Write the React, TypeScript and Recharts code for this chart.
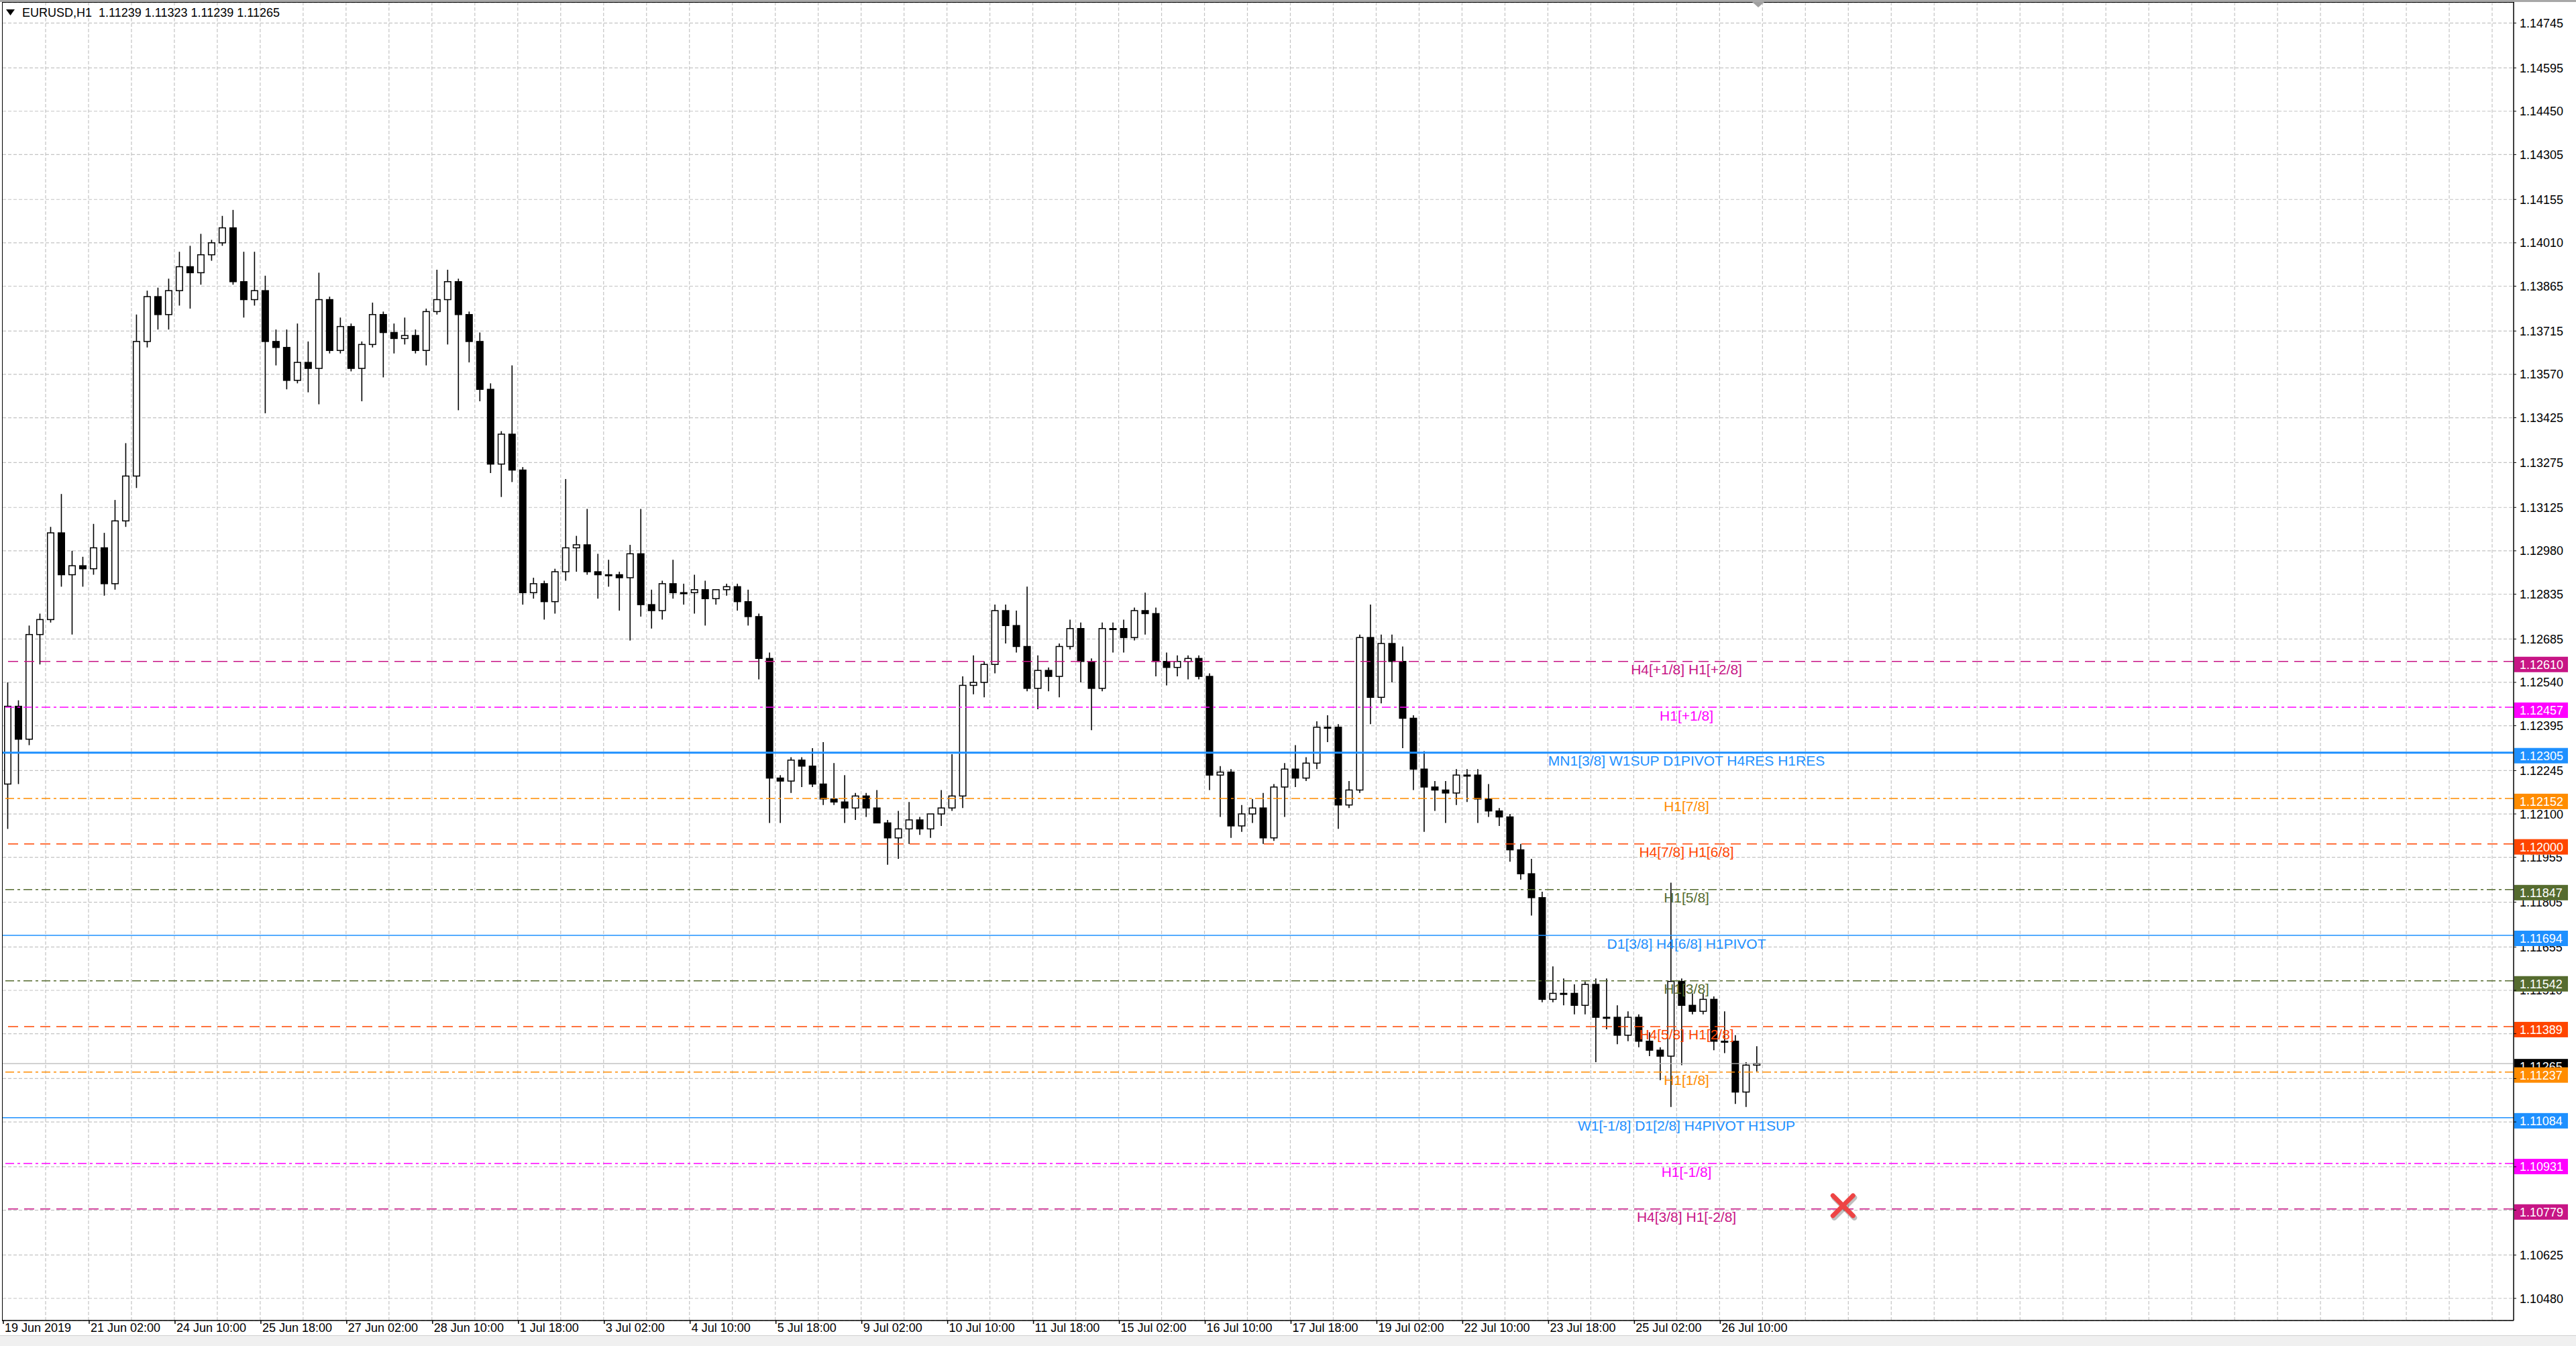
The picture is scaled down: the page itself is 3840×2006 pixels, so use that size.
import React from "react";
import {
  ComposedChart,
  Bar,
  XAxis,
  YAxis,
  CartesianGrid,
  ReferenceLine,
  ReferenceDot,
} from "recharts";

// EURUSD H1 chart, resampled to 4-hour candles (19 Jun 18:00 -> 26 Jul 10:00).
// Each candle opens at the previous close.
const firstOpen = 1.122;

const highs = [
  1.1254, 1.1248, 1.1273, 1.1277, 1.1306, 1.1317, 1.1298, 1.1296, 1.1307, 1.1304,
  1.1315, 1.1334, 1.1377, 1.1385, 1.1386, 1.1389, 1.1398, 1.14, 1.1404, 1.1402,
  1.141, 1.1412, 1.1398, 1.1398, 1.139, 1.1372, 1.1372, 1.1374, 1.1368, 1.1391,
  1.1383, 1.1376, 1.1374, 1.1368, 1.1381, 1.1378, 1.1374, 1.1376, 1.1372, 1.1379,
  1.1392, 1.1392, 1.1389, 1.1378, 1.1371, 1.1354, 1.1338, 1.136, 1.1326, 1.1289,
  1.1288, 1.1292, 1.1322, 1.1303, 1.1312, 1.1297, 1.1295, 1.1291, 1.13, 1.1312,
  1.1285, 1.1288, 1.1295, 1.1287, 1.129, 1.1288, 1.1285, 1.1287, 1.1287, 1.1285,
  1.1277, 1.1264, 1.1223, 1.1229, 1.1229, 1.1232, 1.1234, 1.1227, 1.1223, 1.1217,
  1.1217, 1.1218, 1.1208, 1.1211, 1.1214, 1.1209, 1.121, 1.1218, 1.123, 1.1256,
  1.1263, 1.1261, 1.128, 1.128, 1.1278, 1.1286, 1.1263, 1.1259, 1.1267, 1.1275,
  1.1274, 1.1262, 1.1274, 1.1274, 1.1275, 1.1279, 1.1284, 1.1279, 1.1264, 1.1263,
  1.1263, 1.1263, 1.1257, 1.1226, 1.1225, 1.1213, 1.1215, 1.1217, 1.122, 1.1227,
  1.1233, 1.1229, 1.1241, 1.1243, 1.124, 1.1221, 1.127, 1.128, 1.127, 1.127,
  1.1266, 1.1243, 1.1231, 1.1221, 1.1221, 1.1225, 1.1225, 1.1225, 1.122, 1.1212,
  1.121, 1.12, 1.1195, 1.1184, 1.1159, 1.1155, 1.1153, 1.1154, 1.1155, 1.1155,
  1.1146, 1.1144, 1.1143, 1.1137, 1.1132, 1.1187, 1.1155, 1.115, 1.115, 1.1149,
  1.1144, 1.1136, 1.1127, 1.11323,
];

const lows = [
  1.1205, 1.122, 1.1233, 1.126, 1.1274, 1.1286, 1.127, 1.1286, 1.129, 1.1283,
  1.1285, 1.1306, 1.1319, 1.1366, 1.1372, 1.1372, 1.138, 1.1379, 1.1387, 1.1395,
  1.14, 1.1387, 1.1376, 1.138, 1.1344, 1.136, 1.1352, 1.1354, 1.1351, 1.1347,
  1.1364, 1.1364, 1.1358, 1.1348, 1.1366, 1.1356, 1.1364, 1.1367, 1.1364, 1.136,
  1.1377, 1.1367, 1.1345, 1.1361, 1.1348, 1.1324, 1.1316, 1.1321, 1.128, 1.1282,
  1.1275, 1.1277, 1.1288, 1.1291, 1.129, 1.1282, 1.1286, 1.1278, 1.1268, 1.1276,
  1.1272, 1.1275, 1.1282, 1.128, 1.1277, 1.1273, 1.128, 1.1283, 1.1278, 1.1273,
  1.1255, 1.1207, 1.1207, 1.1217, 1.1219, 1.1219, 1.1213, 1.1213, 1.1207, 1.1208,
  1.1209, 1.1207, 1.1193, 1.1195, 1.12, 1.1203, 1.1202, 1.1206, 1.1211, 1.1212,
  1.125, 1.1249, 1.1257, 1.1267, 1.1264, 1.1251, 1.1245, 1.1251, 1.1249, 1.1265,
  1.1254, 1.1238, 1.1251, 1.1264, 1.1264, 1.1268, 1.127, 1.1256, 1.1253, 1.1256,
  1.1255, 1.1255, 1.1218, 1.1209, 1.1202, 1.1204, 1.1207, 1.12, 1.1201, 1.1209,
  1.1219, 1.1221, 1.1225, 1.1234, 1.1205, 1.1212, 1.1217, 1.124, 1.1247, 1.1254,
  1.1232, 1.1218, 1.1204, 1.1211, 1.1207, 1.1213, 1.1214, 1.1207, 1.1209, 1.1206,
  1.1194, 1.1188, 1.1176, 1.1147, 1.1147, 1.1146, 1.1143, 1.1143, 1.1127, 1.1138,
  1.1133, 1.1134, 1.1132, 1.1129, 1.1121, 1.1112, 1.1126, 1.1143, 1.1143, 1.1131,
  1.113, 1.1113, 1.1112, 1.11239,
];

const closes = [
  1.1246, 1.1235, 1.127, 1.1275, 1.1304, 1.129, 1.1293, 1.1292, 1.1299, 1.1287,
  1.1308, 1.1323, 1.1368, 1.1383, 1.1377, 1.1385, 1.1393, 1.1391, 1.1397, 1.1401,
  1.1406, 1.1388, 1.1382, 1.1385, 1.1368, 1.1366, 1.1355, 1.1361, 1.1359, 1.1382,
  1.1365, 1.1373, 1.1359, 1.1367, 1.1377, 1.1371, 1.1369, 1.137, 1.1365, 1.1378,
  1.1382, 1.1388, 1.1377, 1.1368, 1.1352, 1.1327, 1.1337, 1.1325, 1.1284, 1.1287,
  1.1281, 1.1291, 1.1299, 1.13, 1.1291, 1.129, 1.129, 1.1289, 1.1297, 1.128,
  1.1278, 1.1287, 1.1284, 1.1284, 1.1285, 1.1282, 1.1285, 1.1286, 1.1281, 1.1276,
  1.1262, 1.1222, 1.1221, 1.1228, 1.1226, 1.122, 1.1215, 1.1214, 1.1212, 1.1216,
  1.1212, 1.1207, 1.1202, 1.1205, 1.1208, 1.1205, 1.121, 1.1212, 1.1216, 1.1253,
  1.1254, 1.126, 1.1278, 1.1273, 1.1266, 1.1252, 1.1258, 1.1256, 1.1266, 1.1272,
  1.1261, 1.1252, 1.1272, 1.1272, 1.1269, 1.1278, 1.1277, 1.1261, 1.1259, 1.1261,
  1.1262, 1.1256, 1.1223, 1.1224, 1.1206, 1.121, 1.1212, 1.1202, 1.1219, 1.1225,
  1.1222, 1.1227, 1.1239, 1.1239, 1.1213, 1.1218, 1.1269, 1.1249, 1.1267, 1.1261,
  1.1242, 1.1225, 1.1219, 1.1218, 1.1217, 1.1223, 1.1223, 1.1215, 1.1211, 1.1209,
  1.1198, 1.119, 1.1182, 1.1148, 1.115, 1.115, 1.1146, 1.1153, 1.1142, 1.1142,
  1.1136, 1.1142, 1.1134, 1.1131, 1.1129, 1.1154, 1.1146, 1.1144, 1.1148, 1.1134,
  1.1134, 1.1117, 1.1126, 1.11265,
];

// one date label every 8 candles (32 hours)
const dateLabels = [
  "19 Jun 2019", "21 Jun 02:00", "24 Jun 10:00", "25 Jun 18:00", "27 Jun 02:00",
  "28 Jun 10:00", "1 Jul 18:00", "3 Jul 02:00", "4 Jul 10:00", "5 Jul 18:00",
  "9 Jul 02:00", "10 Jul 10:00", "11 Jul 18:00", "15 Jul 02:00", "16 Jul 10:00",
  "17 Jul 18:00", "19 Jul 02:00", "22 Jul 10:00", "23 Jul 18:00", "25 Jul 02:00",
  "26 Jul 10:00",
];

const priceTicks = [
  1.1048, 1.10625, 1.10775, 1.1092, 1.1107, 1.11215, 1.11365, 1.1151, 1.11655,
  1.11805, 1.11955, 1.121, 1.12245, 1.12395, 1.1254, 1.12685, 1.12835, 1.1298,
  1.13125, 1.13275, 1.13425, 1.1357, 1.13715, 1.13865, 1.1401, 1.14155, 1.14305,
  1.1445, 1.14595, 1.14745,
];

// Murrey-math / pivot levels drawn on the chart
const levelPrices = [
  1.1261, 1.12457, 1.12305, 1.12152, 1.12, 1.11847, 1.11694, 1.11542, 1.11389,
  1.11237, 1.11084, 1.10931, 1.10779,
];
const levelNames = [
  "H4[+1/8] H1[+2/8]", "H1[+1/8]", "MN1[3/8] W1SUP D1PIVOT H4RES H1RES", "H1[7/8]",
  "H4[7/8] H1[6/8]", "H1[5/8]", "D1[3/8] H4[6/8] H1PIVOT", "H1[3/8]",
  "H4[5/8] H1[2/8]", "H1[1/8]", "W1[-1/8] D1[2/8] H4PIVOT H1SUP", "H1[-1/8]",
  "H4[3/8] H1[-2/8]",
];
const levelColors = [
  "#C71585", "#FF00FF", "#1E90FF", "#FF8C00", "#FF4500", "#556B2F", "#1E90FF",
  "#556B2F", "#FF4500", "#FF8C00", "#1E90FF", "#FF00FF", "#C71585",
];
const levelStyles = [
  "dash", "dashdot", "thick", "dashdot", "dash", "dashdot", "solid", "dashdot",
  "dash", "dashdot", "solid", "dashdot", "dash",
];

const lastPrice = 1.11265;

const SLOTS = 234; // visible candle slots incl. the empty right margin
const Y_DOMAIN = [1.10406, 1.14813];
const PLOT_H = 1964;
const PX_PER_PRICE = PLOT_H / (Y_DOMAIN[1] - Y_DOMAIN[0]);
const BOX_UP = 7; // price box reaches this far above its line
const BOX_DOWN = 16; // and this far below it
const FONT = "'Liberation Sans', Arial, sans-serif";

const rows = Array.from({ length: SLOTS }, (_, i) => {
  if (i >= closes.length) return { slot: i, range: null };
  const open = i === 0 ? firstOpen : closes[i - 1];
  return {
    slot: i,
    open,
    high: highs[i],
    low: lows[i],
    close: closes[i],
    range: [lows[i], highs[i]],
  };
});

const labelSlots = dateLabels.map((_, i) => i * 8);
const gridSlots = Array.from({ length: Math.floor((SLOTS - 1) / 4) }, (_, i) => (i + 1) * 4);
const boxPrices = [lastPrice, ...levelPrices];

const Candle = (props: any) => {
  const { x, y, width, height, payload } = props;
  if (!payload || payload.close == null) return null;
  const top = Math.min(y, y + height);
  const h = Math.abs(height);
  const span = payload.high - payload.low;
  const k = span > 0 ? h / span : 0;
  const yOf = (v: number) => top + (payload.high - v) * k;
  const cx = x + width / 2;
  const bTop = yOf(Math.max(payload.open, payload.close));
  const bBot = yOf(Math.min(payload.open, payload.close));
  const bull = payload.close >= payload.open;
  return (
    <g>
      <line x1={cx} x2={cx} y1={top} y2={top + h} stroke="#000" strokeWidth={1.6} />
      <rect
        x={x + 0.75}
        y={bTop}
        width={width - 1.5}
        height={Math.max(bBot - bTop, 1.5)}
        fill={bull ? "#fff" : "#000"}
        stroke="#000"
        strokeWidth={1.5}
      />
    </g>
  );
};

// y tick label, cut where a coloured price box sits on top of it
const PriceTick = (props: any) => {
  const { x, y, payload } = props;
  const v = Number(payload.value);
  let from = -9;
  let to = 9;
  for (const L of boxPrices) {
    const d = (L - v) * PX_PER_PRICE; // tick sits d px below the line
    const top = -BOX_UP - d;
    const bot = BOX_DOWN - d;
    if (bot <= from || top >= to) continue;
    if (top <= from && bot >= to) return null;
    if (top <= from) from = bot;
    else to = top;
  }
  if (to - from < 6) return null;
  const id = "tc" + String(v).replace(".", "_");
  return (
    <g>
      <defs>
        <clipPath id={id}>
          <rect x={x - 2} y={y + from} width={90} height={to - from} />
        </clipPath>
      </defs>
      <text x={x} y={y} dy="0.36em" fontSize={18} fontFamily={FONT} fill="#000" clipPath={`url(#${id})`}>
        {v.toFixed(5)}
      </text>
    </g>
  );
};

const DateTick = (props: any) => {
  const { x, y, payload } = props;
  const label = dateLabels[payload.value / 8];
  if (!label) return null;
  const tx = x - 7;
  return (
    <g>
      <line x1={tx} x2={tx} y1={y} y2={y + 5} stroke="#000" strokeWidth={1.5} />
      <text x={tx + 2} y={y + 17} fontSize={18} fontFamily={FONT} fill="#000">
        {label}
      </text>
    </g>
  );
};

const PriceBox = ({ vb, price, color }: any) => (
  <g>
    <rect x={vb.x + vb.width + 1} y={vb.y - BOX_UP} width={80} height={BOX_UP + BOX_DOWN} fill={color} />
    <text
      x={vb.x + vb.width + 9}
      y={vb.y + (BOX_DOWN - BOX_UP) / 2}
      dy="0.36em"
      fontSize={18}
      fontFamily={FONT}
      fill="#fff"
    >
      {price.toFixed(5)}
    </text>
  </g>
);

const LevelTag = (props: any) => {
  const vb = props.viewBox;
  if (!vb) return null;
  const { name, color, price } = props;
  return (
    <g>
      <text
        x={vb.x + vb.width * 0.6706}
        y={vb.y + 12}
        dy="0.36em"
        textAnchor="middle"
        fontSize={21}
        fontFamily={FONT}
        fill={color}
      >
        {name}
      </text>
      <PriceBox vb={vb} price={price} color={color} />
    </g>
  );
};

const dashOf = (s: string) =>
  s === "dash" ? "15 9" : s === "dashdot" ? "13 5 4 5" : undefined;
const widthOf = (s: string) => (s === "thick" ? 3 : 1.5);

const CloseMark = (props: any) => {
  const { cx, cy } = props;
  if (cx == null || cy == null) return null;
  const d = 15;
  return (
    <g strokeLinecap="round">
      <g stroke="rgba(0,0,0,0.25)" strokeWidth={8} transform="translate(2,3)">
        <line x1={cx - d} y1={cy - d} x2={cx + d} y2={cy + d} />
        <line x1={cx - d} y1={cy + d} x2={cx + d} y2={cy - d} />
      </g>
      <g stroke="#EE4444" strokeWidth={7}>
        <line x1={cx - d} y1={cy - d} x2={cx + d} y2={cy + d} />
        <line x1={cx - d} y1={cy + d} x2={cx + d} y2={cy - d} />
      </g>
    </g>
  );
};

export default function App() {
  return (
    <div
      style={{
        position: "absolute",
        left: 0,
        top: 0,
        width: 3840,
        height: 2006,
        background: "#fff",
        overflow: "hidden",
        fontFamily: FONT,
      }}
    >
      <ComposedChart
        width={3840}
        height={2006}
        data={rows}
        margin={{ top: 4, right: 0, bottom: 0, left: 4 }}
      >
        <CartesianGrid vertical={false} stroke="#c4c4c4" strokeDasharray="5 3" strokeWidth={1.2} />
        {gridSlots.map((s) => (
          <ReferenceLine
            key={"g" + s}
            x={s}
            position="start"
            stroke="#c4c4c4"
            strokeDasharray="5 3"
            strokeWidth={1.2}
          />
        ))}
        <XAxis
          dataKey="slot"
          type="category"
          ticks={labelSlots}
          interval={0}
          tick={<DateTick />}
          tickLine={false}
          tickSize={0}
          tickMargin={0}
          axisLine={{ stroke: "#000", strokeWidth: 1.5 }}
          height={38}
        />
        <YAxis
          orientation="right"
          type="number"
          domain={Y_DOMAIN}
          allowDataOverflow
          ticks={priceTicks}
          interval={0}
          width={93}
          tick={<PriceTick />}
          tickSize={4}
          tickMargin={5}
          tickLine={{ stroke: "#000" }}
          axisLine={{ stroke: "#000", strokeWidth: 1.5 }}
        />
        <Bar
          dataKey="range"
          barSize={11}
          shape={<Candle />}
          isAnimationActive={false}
        />
        <ReferenceLine
          y={lastPrice}
          stroke="#b8b8b8"
          strokeWidth={1.2}
          label={(p: any) => (p.viewBox ? <PriceBox vb={p.viewBox} price={lastPrice} color="#000" /> : null)}
        />
        {levelPrices.map((p, i) => (
          <ReferenceLine
            key={"l" + i}
            y={p}
            stroke={levelColors[i]}
            strokeWidth={widthOf(levelStyles[i])}
            strokeDasharray={dashOf(levelStyles[i])}
            label={(lp: any) => (
              <LevelTag {...lp} name={levelNames[i]} color={levelColors[i]} price={p} />
            )}
          />
        ))}
        <ReferenceDot x={171} y={1.1079} r={0} shape={<CloseMark />} />
      </ComposedChart>

      {/* window frame */}
      <div style={{ position: "absolute", left: 0, top: 0, width: 3840, height: 3, background: "#a8a8a8" }} />
      <div style={{ position: "absolute", left: 3, top: 3, width: 3745, height: 1966, borderTop: "1.5px solid #000", borderLeft: "1.5px solid #000", boxSizing: "border-box", pointerEvents: "none" }} />
      <div style={{ position: "absolute", left: 0, top: 1990, width: 3840, height: 16, background: "#f0f0f0", borderTop: "1px solid #d0d0d0" }} />
      <svg style={{ position: "absolute", left: 2612, top: 3 }} width={18} height={10}>
        <polygon points="0,0 18,0 9,8" fill="#a0a0a0" />
      </svg>

      {/* symbol header */}
      <svg style={{ position: "absolute", left: 9, top: 14 }} width={13} height={10}>
        <polygon points="0,0 13,0 6.5,9" fill="#000" />
      </svg>
      <div
        style={{
          position: "absolute",
          left: 33,
          top: 8,
          fontSize: 18,
          lineHeight: "22px",
          whiteSpace: "pre",
          color: "#000",
        }}
      >
        {"EURUSD,H1  1.11239 1.11323 1.11239 1.11265"}
      </div>
    </div>
  );
}
